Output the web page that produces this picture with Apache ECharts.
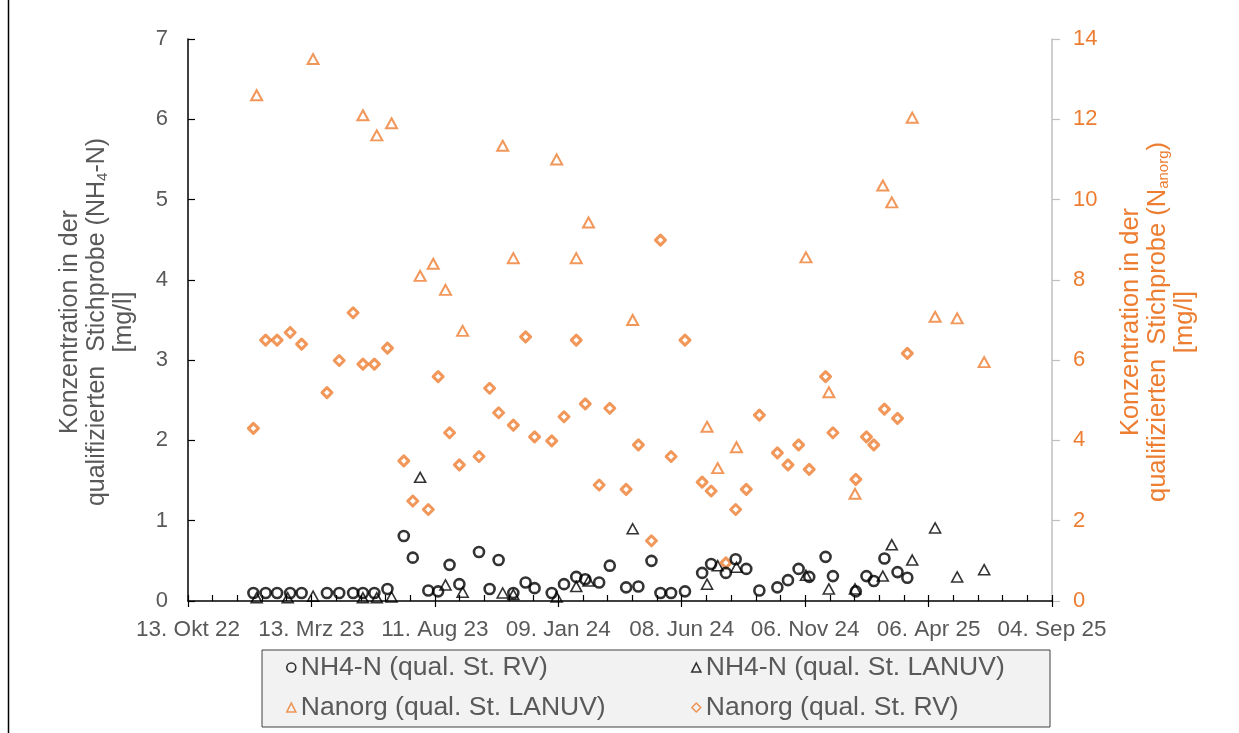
<!DOCTYPE html>
<html>
<head>
<meta charset="utf-8">
<script src="https://cdn.jsdelivr.net/npm/echarts@6/dist/echarts.min.js"></script>
<style>html,body{margin:0;padding:0;background:#fff}#c{width:1239px;height:733px}</style>
</head>
<body>
<div id="c"></div>
<script>
// ---- data ----
const rvDates = ['2023-01-01','2023-01-16','2023-01-30','2023-02-15','2023-03-01','2023-04-01','2023-04-16','2023-05-03','2023-05-15','2023-05-29','2023-06-14','2023-07-04','2023-07-15','2023-08-03','2023-08-15','2023-08-29','2023-09-10','2023-10-04','2023-10-17','2023-10-28','2023-11-15','2023-11-30','2023-12-11','2024-01-01','2024-01-16','2024-01-31','2024-02-11','2024-02-28','2024-03-12','2024-04-01','2024-04-16','2024-05-02','2024-05-13','2024-05-26','2024-06-12','2024-07-03','2024-07-14','2024-08-01','2024-08-13','2024-08-26','2024-09-11','2024-10-03','2024-10-16','2024-10-29','2024-11-11','2024-12-01','2024-12-10','2025-01-07','2025-01-20','2025-01-29','2025-02-11','2025-02-27','2025-03-11'];
const nh4RV = [0.1,0.1,0.1,0.1,0.1, 0.1,0.1,0.1,0.1,0.1, 0.15,0.81,0.54,0.13,0.12, 0.45,0.21,0.61,0.15,0.51, 0.1,0.23,0.16,0.1,0.21, 0.3,0.27,0.23,0.44,0.17, 0.18,0.5,0.1,0.1,0.12, 0.35,0.46,0.35,0.52,0.4, 0.13,0.17,0.26,0.4,0.3, 0.55,0.31,0.12,0.31,0.25, 0.53,0.36,0.29];
const nanorgRV = [4.3,6.5,6.5,6.69,6.4, 5.19,5.99,7.18,5.9,5.9, 6.3,3.49,2.49,2.28,5.59, 4.19,3.39,3.6,5.3,4.69, 4.38,6.58,4.09,3.99,4.59, 6.5,4.91,2.89,4.8,2.78, 3.89,1.5,8.99,3.6,6.5, 2.96,2.74,0.95,2.28,2.78, 4.63,3.69,3.39,3.89,3.28, 5.59,4.19,3.03,4.09,3.89, 4.78,4.55,6.17];
const lanuvDates = ['2023-01-05','2023-02-12','2023-03-15','2023-05-15','2023-06-01','2023-06-19','2023-07-24','2023-08-09','2023-08-24','2023-09-14','2023-11-02','2023-11-15','2024-01-07','2024-01-31','2024-02-15','2024-04-09','2024-07-09','2024-07-22','2024-08-14','2024-11-07','2024-12-05','2025-01-06','2025-02-09','2025-02-20','2025-03-17','2025-04-14','2025-05-11','2025-06-13'];
const nh4LANUV = [0.04,0.04,0.06,0.04,0.04,0.05,1.54,null,0.2,0.11,0.1,0.08,0.05,0.18,0.25,0.9,0.21,0.44,0.42,0.32,0.15,0.15,0.31,0.7,0.51,0.91,0.3,0.39];
const nanorgLANUV = [12.6,null,13.5,12.1,11.6,11.9,8.1,8.4,7.75,6.73,11.34,8.54,11.0,8.54,9.43,7.0,4.34,3.31,3.83,8.56,5.2,2.67,10.35,9.93,12.04,7.08,7.04,5.95];
const seriesNames = ['NH4-N (qual. St. RV)','NH4-N (qual. St. LANUV)','Nanorg (qual. St. LANUV)','Nanorg (qual. St. RV)'];
const xStart = '2022-10-13', xEnd = '2025-09-04', xStepDays = 151;
const monthsDE = ['Jan','Feb','Mrz','Apr','Mai','Jun','Jul','Aug','Sep','Okt','Nov','Dez'];

// ---- helpers ----
function serial(s){const p=s.split('-').map(Number);return Date.UTC(p[0],p[1]-1,p[2])/86400000+25569;}
function fmt(v){const d=new Date((Math.round(v)-25569)*86400000);const dd=String(d.getUTCDate()).padStart(2,'0');return dd+'. '+monthsDE[d.getUTCMonth()]+' '+String(d.getUTCFullYear()).slice(2);}
function pairs(dates,vals){const o=[];dates.forEach((d,i)=>{if(vals[i]!=null)o.push([serial(d),vals[i]]);});return o;}

const GRAY='#595959', ORANGE='#ED7D31', FONT='Liberation Sans, Arial, sans-serif';
const chart = echarts.init(document.getElementById('c'), null, {renderer:'canvas'});
const legendBase = (name,left,top)=>({data:[name],left:left,top:top,padding:0,itemWidth:9,itemHeight:9,itemGap:0,z:10,
  textStyle:{color:GRAY,fontSize:26.5,fontFamily:FONT,padding:[0,0,0,0]},itemStyle:{borderWidth:1.6},selectedMode:false});
chart.setOption({
  backgroundColor:'#fff',
  animation:false,
  grid:{left:188,right:187,top:39,bottom:132},
  xAxis:[{type:'value',min:serial(xStart),max:serial(xEnd),interval:xStepDays,position:'bottom',
    axisLine:{lineStyle:{color:'#000',width:1.5}},
    axisTick:{inside:true,length:6,lineStyle:{color:'#000',width:1.2}},
    minorTick:{show:true,splitNumber:5,length:6,lineStyle:{color:'#000',width:1.2}},
    splitLine:{show:false},
    axisLabel:{formatter:fmt,color:GRAY,fontSize:22.5,fontFamily:FONT,margin:17}},
   {type:'value',min:serial(xStart),max:serial(xEnd),interval:xStepDays,position:'bottom',offset:0,
    axisLine:{show:false},axisTick:{inside:false,length:6,lineStyle:{color:'#000',width:1.2}},
    axisLabel:{show:false},splitLine:{show:false}}],
  yAxis:[{type:'value',min:0,max:7,interval:1,position:'left',
    axisLine:{show:true,lineStyle:{color:'#000',width:1.5}},
    axisTick:{show:true,inside:true,length:7,lineStyle:{color:'#000',width:1.2}},
    splitLine:{show:false},
    axisLabel:{color:GRAY,fontSize:22,fontFamily:FONT,margin:20}},
   {type:'value',min:0,max:14,interval:2,position:'right',
    axisLine:{show:true,lineStyle:{color:'#BFBFBF',width:1.5}},
    axisTick:{show:true,inside:false,length:8,lineStyle:{color:'#BFBFBF',width:1.2}},
    splitLine:{show:false},
    axisLabel:{color:ORANGE,fontSize:22,fontFamily:FONT,margin:21}}],
  legend:[legendBase(seriesNames[0],286,654),legendBase(seriesNames[1],691,654),
          legendBase(seriesNames[2],286,694),legendBase(seriesNames[3],691,694)],
  graphic:[
    {type:'line',shape:{x1:8.5,y1:0,x2:8.5,y2:733},style:{stroke:'#000',lineWidth:1.5},z:0},
    {type:'rect',shape:{x:262,y:650,width:788,height:77},style:{fill:'#F2F2F2',stroke:'#404040',lineWidth:1},z:0},
    {type:'text',x:97,y:322,rotation:Math.PI/2,z:5,
     style:{text:'Konzentration in der\nqualifizierten  Stichprobe (NH{sub|4}-N)\n[mg/l]',
       fill:GRAY,fontSize:25,fontFamily:FONT,align:'center',verticalAlign:'middle',lineHeight:27,
       rich:{sub:{fontSize:15,fontFamily:FONT,fill:GRAY,lineHeight:12,verticalAlign:'bottom'}}}},
    {type:'text',x:1158,y:322,rotation:Math.PI/2,z:5,
     style:{text:'Konzentration in der\nqualifizierten  Stichprobe (N{sub|anorg})\n[mg/l]',
       fill:ORANGE,fontSize:25.5,fontFamily:FONT,align:'center',verticalAlign:'middle',lineHeight:27,
       rich:{sub:{fontSize:15,fontFamily:FONT,fill:ORANGE,lineHeight:12,verticalAlign:'bottom'}}}}
  ],
  series:[
    {name:seriesNames[0],type:'scatter',xAxisIndex:0,yAxisIndex:0,symbol:'circle',symbolSize:10,
     itemStyle:{color:'rgba(0,0,0,0)',borderColor:'#000',borderWidth:2.6},data:pairs(rvDates,nh4RV),z:4},
    {name:seriesNames[1],type:'scatter',xAxisIndex:0,yAxisIndex:0,symbol:'triangle',symbolSize:[11,10],
     itemStyle:{color:'rgba(0,0,0,0)',borderColor:'#000',borderWidth:1.6},data:pairs(lanuvDates,nh4LANUV),z:3},
    {name:seriesNames[2],type:'scatter',xAxisIndex:0,yAxisIndex:1,symbol:'triangle',symbolSize:[11,10],
     itemStyle:{color:'rgba(0,0,0,0)',borderColor:ORANGE,borderWidth:2},data:pairs(lanuvDates,nanorgLANUV),z:3},
    {name:seriesNames[3],type:'scatter',xAxisIndex:0,yAxisIndex:1,symbol:'diamond',symbolSize:10,
     itemStyle:{color:'rgba(0,0,0,0)',borderColor:ORANGE,borderWidth:3,borderJoin:'round'},data:pairs(rvDates,nanorgRV),z:3}
  ]
});
</script>
</body>
</html>
